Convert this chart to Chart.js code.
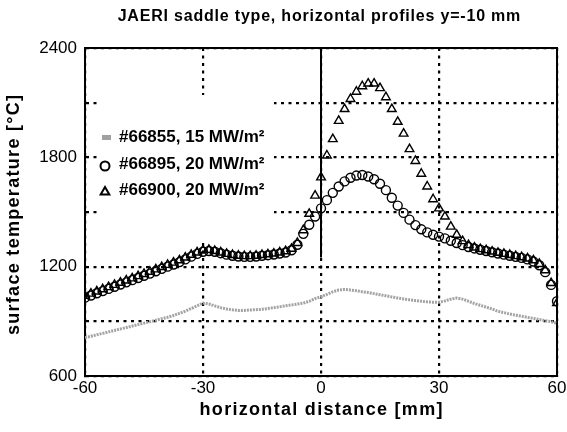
<!DOCTYPE html>
<html>
<head>
<meta charset="utf-8">
<script src="https://cdn.jsdelivr.net/npm/chart.js@4/dist/chart.umd.min.js"></script>
<style>
  html, body { margin: 0; padding: 0; background: #fff; }
  #wrap { width: 567px; height: 432px; }
</style>
</head>
<body>
<div id="wrap"><canvas id="c" width="567" height="432"></canvas></div>
<script>
const chartTitle = 'JAERI saddle type, horizontal profiles y=-10 mm';
const xAxisTitle = 'horizontal distance [mm]';
const yAxisTitle = 'surface temperature [°C]';
const seriesLabels = ['#66855, 15 MW/m²', '#66895, 20 MW/m²', '#66900, 20 MW/m²'];

// horizontal positions [mm]
const xPositions = [-60,-58.5,-57,-55.5,-54,-52.5,-51,-49.5,-48,-46.5,
  -45,-43.5,-42,-40.5,-39,-37.5,-36,-34.5,-33,-31.5,
  -30,-28.5,-27,-25.5,-24,-22.5,-21,-19.5,-18,-16.5,
  -15,-13.5,-12,-10.5,-9,-7.5,-6,-4.5,-3,-1.5,
  0,1.5,3,4.5,6,7.5,9,10.5,12,13.5,
  15,16.5,18,19.5,21,22.5,24,25.5,27,28.5,
  30,31.5,33,34.5,36,37.5,39,40.5,42,43.5,
  45,46.5,48,49.5,51,52.5,54,55.5,57,58.5,60];

// #66855, 15 MW/m2 (grey)
const temp66855 = [810,818,826,834,842,850,858,866,874,882,
  890,898,906,914,922,932,944,956,970,985,
  1000,995,985,975,968,963,960,960,962,964,
  966,970,975,980,985,990,995,1000,1010,1025,
  1035,1048,1062,1072,1075,1072,1068,1062,1058,1052,
  1046,1040,1034,1028,1023,1018,1014,1010,1007,1005,
  1005,1012,1022,1028,1022,1010,998,988,978,968,
  955,948,940,934,928,922,916,910,904,898,890];

// #66895, 20 MW/m2 (circles)
const temp66895 = [1030,1042,1054,1066,1078,1090,1102,1114,1126,1138,
  1150,1162,1175,1188,1200,1212,1225,1240,1255,1270,
  1282,1286,1282,1274,1266,1260,1256,1254,1254,1256,
  1260,1263,1267,1272,1278,1290,1320,1380,1430,1475,
  1520,1565,1605,1640,1668,1688,1700,1703,1695,1680,
  1655,1620,1578,1535,1495,1458,1428,1405,1388,1375,
  1365,1355,1342,1330,1318,1308,1300,1293,1286,1279,
  1272,1266,1260,1254,1248,1240,1228,1208,1170,1100,1010];

// #66900, 20 MW/m2 (triangles)
const temp66900 = [1040,1052,1064,1076,1088,1100,1112,1124,1136,1148,
  1160,1172,1185,1198,1210,1222,1235,1250,1265,1278,
  1290,1292,1286,1278,1270,1264,1260,1258,1258,1260,
  1264,1268,1272,1278,1285,1298,1330,1400,1490,1590,
  1690,1810,1900,2000,2065,2120,2160,2190,2205,2205,
  2180,2130,2065,1995,1930,1845,1780,1710,1640,1570,
  1520,1475,1420,1375,1340,1318,1305,1296,1290,1283,
  1276,1270,1264,1258,1252,1245,1235,1215,1180,1110,1000];

const yTickStep = 300, yLabelStep = 600, xTickStep = 30;
const FONT = "'Liberation Sans', Arial, Helvetica, sans-serif";

function pts(ys) { return xPositions.map((x, i) => ({x: x, y: ys[i]})); }

function spacedText(ctx, text, x, y, spacing) {
  ctx.letterSpacing = spacing + 'px';
  const w = ctx.measureText(text).width - spacing;
  ctx.fillText(text, x - w / 2, y);
  ctx.letterSpacing = '0px';
}

const framePlugin = {
  id: 'frameLegend',
  beforeDatasetsDraw(chart) {
    const ctx = chart.ctx, a = chart.chartArea;
    const xs = chart.scales.x, ys = chart.scales.y;
    ctx.save();
    // legend background hides the grid
    ctx.fillStyle = '#fff';
    ctx.fillRect(98, 95, 176, 148);
    // solid upper part of the zero line
    ctx.strokeStyle = '#000';
    ctx.lineWidth = 2;
    ctx.setLineDash([]);
    const x0 = xs.getPixelForValue(0);
    ctx.beginPath();
    ctx.moveTo(x0, a.top);
    ctx.lineTo(x0, ys.getPixelForValue(1250));
    ctx.stroke();
    // frame
    ctx.strokeRect(a.left, a.top, a.right - a.left, a.bottom - a.top);
    // legend
    const ds = chart.data.datasets;
    const rows = [137, 164, 190];
    ctx.font = "bold 17px " + FONT;
    ctx.textBaseline = 'middle';
    ctx.textAlign = 'left';
    for (let i = 0; i < ds.length; i++) {
      const y = rows[i];
      ctx.fillStyle = '#000';
      ctx.fillText(ds[i].label, 119, y);
      if (i === 0) {
        ctx.fillStyle = '#a0a0a0';
        ctx.fillRect(102, y - 2, 9, 5);
      } else {
        ctx.fillStyle = '#fff';
        ctx.strokeStyle = '#000';
        Chart.helpers.drawPoint(ctx, {pointStyle: ds[i].pointStyle, radius: ds[i].pointRadius, borderWidth: 1.5}, 105, y + 2);
      }
    }
    ctx.restore();
  },
  afterDraw(chart) {
    const ctx = chart.ctx, a = chart.chartArea;
    ctx.save();
    ctx.fillStyle = '#000';
    ctx.textBaseline = 'middle';
    ctx.textAlign = 'left';
    ctx.font = "bold 16px " + FONT;
    spacedText(ctx, chartTitle, 319, 17, 0.8);
    ctx.font = "bold 18px " + FONT;
    spacedText(ctx, xAxisTitle, (a.left + a.right) / 2, 410, 1.3);
    ctx.translate(14, (a.top + a.bottom) / 2 + 3);
    ctx.rotate(-Math.PI / 2);
    spacedText(ctx, yAxisTitle, 0, 0, 1.3);
    ctx.restore();
  }
};

new Chart(document.getElementById('c'), {
  type: 'scatter',
  data: {
    datasets: [
      { label: seriesLabels[0], data: pts(temp66855), showLine: true, pointRadius: 0,
        borderColor: '#a3a3a3', borderWidth: 3, borderDash: [2, 1], pointStyle: 'rect' },
      { label: seriesLabels[1], data: pts(temp66895), showLine: false, pointStyle: 'circle',
        pointRadius: 4.5, borderColor: '#000', backgroundColor: 'rgba(0,0,0,0)', borderWidth: 1.4 },
      { label: seriesLabels[2], data: pts(temp66900), showLine: false, pointStyle: 'triangle',
        pointRadius: 5, borderColor: '#000', backgroundColor: 'rgba(0,0,0,0)', borderWidth: 1.4 }
    ]
  },
  options: {
    responsive: false,
    animation: false,
    devicePixelRatio: 1,
    layout: { padding: { left: 0, right: 10, top: 48, bottom: 0 } },
    plugins: {
      legend: { display: false },
      tooltip: { enabled: false },
      title: { display: false }
    },
    scales: {
      x: {
        type: 'linear', min: -60, max: 60,
        afterFit(s) { s.height = 56; s.paddingLeft = 0; s.paddingRight = 0; },
        ticks: { stepSize: xTickStep, color: '#000', padding: 2,
          font: { family: FONT, size: 17 } },
        grid: { color: '#000', lineWidth: 2.2, drawTicks: false },
        border: { display: true, color: '#000', width: 2, dash: [3, 4.5] },
        title: { display: false }
      },
      y: {
        min: 600, max: 2400,
        afterFit(s) { s.width = 85; s.paddingTop = 0; s.paddingBottom = 0; },
        ticks: { stepSize: yTickStep, color: '#000', padding: 8,
          font: { family: FONT, size: 17 },
          callback: v => (v % yLabelStep === 0 ? String(v) : '') },
        grid: { color: '#000', lineWidth: 2.2, drawTicks: false },
        border: { display: true, color: '#000', width: 2, dash: [3, 4.5] },
        title: { display: false }
      }
    }
  },
  plugins: [framePlugin]
});
</script>
</body>
</html>
